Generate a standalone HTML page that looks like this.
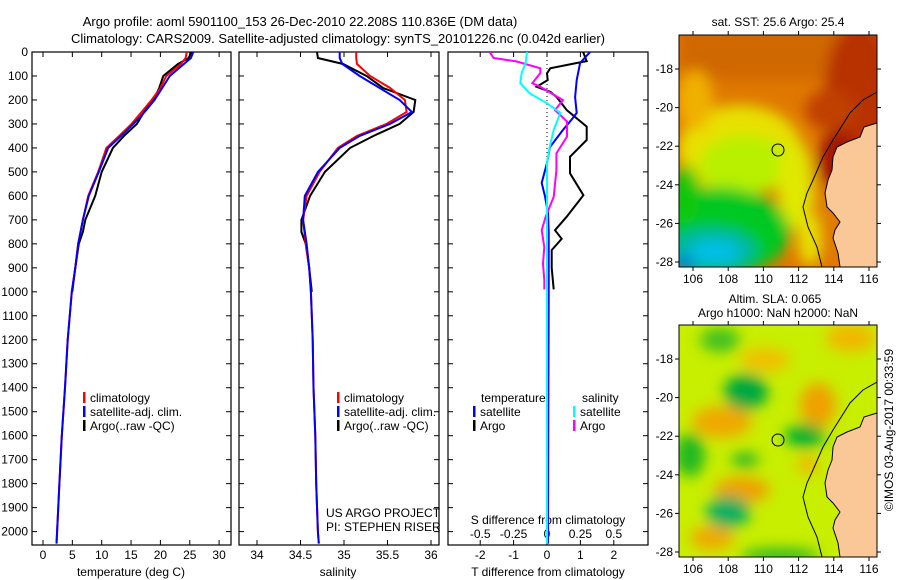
<!DOCTYPE html>
<html><head><meta charset="utf-8"><style>
html,body{margin:0;padding:0;background:#fff;}
svg{display:block;font-family:"Liberation Sans",sans-serif;}
text{font-size:12px;fill:#000;}
</style></head><body>
<svg id="fig" width="900" height="580" viewBox="0 0 900 580" xmlns="http://www.w3.org/2000/svg">
<defs>
<filter id="blur8" x="-50%" y="-50%" width="200%" height="200%"><feGaussianBlur stdDeviation="7"/></filter>
<clipPath id="clipTop"><rect x="679" y="35" width="198" height="232"/></clipPath>
<clipPath id="clipBot"><rect x="679" y="325" width="198" height="232"/></clipPath>
<clipPath id="clipP1"><rect x="32" y="52" width="199" height="493"/></clipPath>
<clipPath id="clipP2"><rect x="239" y="52" width="200" height="493"/></clipPath>
<clipPath id="clipP3"><rect x="448" y="52" width="200" height="493"/></clipPath>
</defs>
<text x="300" y="26" text-anchor="middle" style="font-size:13px">Argo profile: aoml 5901100_153 26-Dec-2010 22.208S 110.836E (DM data)</text>
<text x="338" y="43" text-anchor="middle" style="font-size:13px">Climatology: CARS2009. Satellite-adjusted climatology: synTS_20101226.nc (0.042d earlier)</text>

<!-- top map -->
<g>
<text x="778" y="26" text-anchor="middle">sat. SST: 25.6 Argo: 25.4</text>
<g clip-path="url(#clipTop)">
<rect x="679" y="35" width="198" height="232" fill="#e07800"/>
<g filter="url(#blur8)">
<rect x="679" y="20" width="230" height="60" fill="#d06800"/>
<ellipse cx="860" cy="90" rx="35" ry="70" fill="#b83000"/>
<ellipse cx="830" cy="110" rx="25" ry="20" fill="#c04000"/>
<ellipse cx="740" cy="150" rx="62" ry="45" fill="#e8e000"/>
<ellipse cx="745" cy="165" rx="45" ry="30" fill="#b8f000"/>
<ellipse cx="695" cy="100" rx="18" ry="30" fill="#f0b000"/>
<ellipse cx="795" cy="185" rx="18" ry="45" fill="#e0e800"/>
<ellipse cx="715" cy="232" rx="75" ry="45" fill="#00c820"/>
<ellipse cx="686" cy="195" rx="14" ry="30" fill="#10c810"/>
<ellipse cx="712" cy="250" rx="45" ry="22" fill="#00b8a0"/>
<ellipse cx="715" cy="252" rx="25" ry="12" fill="#00c0e8"/>
<ellipse cx="684" cy="264" rx="10" ry="8" fill="#0070e0"/>
<ellipse cx="810" cy="240" rx="12" ry="26" fill="#e8e000"/>
<ellipse cx="838" cy="160" rx="20" ry="30" fill="#a01800"/>
<ellipse cx="822" cy="205" rx="10" ry="18" fill="#e08000"/>
</g>
<polygon points="877,123 864,127 860,137 847,142 837,147 833,157 832,170 828,180 825,193 827,207 833,213 840,222 835,230 833,238 838,253 840,267 877,267" fill="#fac896"/>
<polyline points="877,123 864,127 860,137 847,142 837,147 833,157 832,170 828,180 825,193 827,207 833,213 840,222 835,230 833,238 838,253 840,267" fill="none" stroke="#000" stroke-width="1"/>
<polyline points="877,92 863,100 850,113 833,140 823,157 813,180 807,193 803,207 808,227 817,247 822,267" fill="none" stroke="#000" stroke-width="1"/>
<circle cx="778" cy="150" r="6" fill="none" stroke="#000" stroke-width="1"/>
</g>
<rect x="679" y="35" width="198" height="232" fill="none" stroke="#000" stroke-width="1"/>
</g>

<!-- bottom map -->
<g>
<text x="775" y="303" text-anchor="middle">Altim. SLA: 0.065</text>
<text x="778" y="317" text-anchor="middle">Argo h1000: NaN h2000: NaN</text>
<g clip-path="url(#clipBot)">
<rect x="679" y="325" width="198" height="232" fill="#c8ee00"/>
<g filter="url(#blur8)">
<ellipse cx="851" cy="338" rx="25" ry="14" fill="#f0b800"/>
<ellipse cx="765" cy="360" rx="25" ry="12" fill="#f0c000"/>
<ellipse cx="818" cy="405" rx="18" ry="22" fill="#f0a000"/>
<ellipse cx="722" cy="422" rx="30" ry="16" fill="#f0a800"/>
<ellipse cx="742" cy="490" rx="28" ry="13" fill="#f0a000"/>
<ellipse cx="712" cy="538" rx="22" ry="12" fill="#f0a800"/>
<ellipse cx="808" cy="465" rx="10" ry="10" fill="#f0b800"/>
<ellipse cx="746" cy="392" rx="22" ry="18" fill="#00a840"/>
<ellipse cx="805" cy="436" rx="20" ry="12" fill="#00b030"/>
<ellipse cx="728" cy="512" rx="22" ry="16" fill="#00b060"/>
<ellipse cx="690" cy="455" rx="15" ry="22" fill="#20b820"/>
<ellipse cx="745" cy="460" rx="14" ry="8" fill="#30b820"/>
<ellipse cx="720" cy="340" rx="20" ry="12" fill="#40c020"/>
<ellipse cx="780" cy="556" rx="40" ry="8" fill="#30b820"/>
</g>
<polygon points="877,123 864,127 860,137 847,142 837,147 833,157 832,170 828,180 825,193 827,207 833,213 840,222 835,230 833,238 838,253 840,267 877,267" transform="translate(0,290)" fill="#fac896"/>
<polyline points="877,123 864,127 860,137 847,142 837,147 833,157 832,170 828,180 825,193 827,207 833,213 840,222 835,230 833,238 838,253 840,267" transform="translate(0,290)" fill="none" stroke="#000" stroke-width="1"/>
<polyline points="877,92 863,100 850,113 833,140 823,157 813,180 807,193 803,207 808,227 817,247 822,267" transform="translate(0,290)" fill="none" stroke="#000" stroke-width="1"/>
<circle cx="778" cy="440" r="6" fill="none" stroke="#000" stroke-width="1"/>
</g>
<rect x="679" y="325" width="198" height="232" fill="none" stroke="#000" stroke-width="1"/>
</g>
<text transform="translate(893,430) rotate(-90)" text-anchor="middle">©IMOS 03-Aug-2017 00:33:59</text>

<g id="axes"></g>
</svg>
<script>
// ---- data ----
const depthLevels = [0,25,50,100,150,200,250,300,350,400,500,600,700,800,900,1000,1200,1400,1600,1800,2000,2050];
const tempClim = [24.5,24.3,23.5,21,20,18.5,16.8,15.1,13,10.8,9.4,7.7,6.8,6,5.5,4.9,4.2,3.75,3.2,2.8,2.4,2.3];
const tempSat  = [25.6,25.2,24,21.6,20.3,19,17.3,15.4,13.3,11.1,9.5,7.8,6.8,6,5.5,4.9,4.2,3.75,3.2,2.8,2.4,2.3];
const salClim  = [35.14,35.14,35.15,35.3,35.53,35.7,35.72,35.49,35.15,34.93,34.72,34.57,34.53,34.56,34.6,34.62,34.64,34.65,34.67,34.68,34.70,34.71];
const salSat   = [34.95,34.95,34.98,35.18,35.41,35.64,35.78,35.53,35.18,34.95,34.7,34.55,34.53,34.57,34.6,34.62,34.64,34.65,34.67,34.68,34.70,34.71];
const argoDepths = [0,25,50,100,150,200,250,300,350,400,500,600,700,750,800,900,1000];
const tempArgo = [25.3,24.8,23,20.5,19.8,18.8,17.2,16,13.8,11.9,10,8.9,7.2,6.8,6.1,5.5,5];
const salArgo  = [34.69,34.7,34.99,35.26,35.45,35.82,35.8,35.64,35.34,35.07,34.78,34.61,34.51,34.51,34.56,34.6,34.63];
const tdSatDepths = [0,46,117,188,254,280,325,396,463,546,602,671,750,1000,1500,2050];
const tdSat = [1.29,0.99,0.89,0.84,0.89,0.75,0.48,0.09,0,-0.16,-0.06,0.03,0.05,0.05,0.04,0.03];
const tdArgoDepths = [0,38,46,68,89,117,145,166,188,242,311,367,437,506,597,687,743,779,826,900,990];
const tdArgo = [1.08,1.19,0.89,0.1,0,0.02,-0.31,0.1,0.29,0.59,1.19,1.19,0.69,0.69,1.09,0.59,0.24,0.44,0.14,0.14,0.2];
const sdArgoDepths = [0,25,39,68,88,130,145,201,242,290,353,423,493,604,687,743,813,882,951,990];
const sdArgo = [-0.43,-0.40,-0.23,-0.05,-0.05,-0.11,-0.05,0.12,0.06,0.15,0.15,0.07,0.07,0.05,-0.01,-0.04,-0.02,-0.03,-0.02,-0.02];
const sdSatDepths = [0,46,88,130,172,214,254,325,396,463,604,1000,2050];
const sdSat = [-0.15,-0.16,-0.19,-0.2,-0.13,0,0.1,0.05,0.02,0,0,0,0];
const depthTicks = [0,100,200,300,400,500,600,700,800,900,1000,1100,1200,1300,1400,1500,1600,1700,1800,1900,2000];
const tempTicks = [0,5,10,15,20,25,30];
const salTicks = [34,34.5,35,35.5,36];
const tdTicks = [-2,-1,0,1,2];
const sdTicks = [-0.5,-0.25,0,0.25,0.5];
const sdTickLabels = ["-0.5","-0.25","0","0.25","0.5"];

const NS="http://www.w3.org/2000/svg";
const root=document.getElementById('axes');
const yD=d=>52+d*0.2398;
const xT=t=>43+t*5.87;
const xS=s=>257+(s-34)*87;
const xTD=v=>547+v*33.4;
const xSD=v=>547+v*133.6;
function el(tag,attrs,parent){const e=document.createElementNS(NS,tag);for(const k in attrs)e.setAttribute(k,attrs[k]);(parent||root).appendChild(e);return e;}
function txt(x,y,s,anchor,parent){const t=el('text',{x:x,y:y,'text-anchor':anchor||'start'},parent);t.textContent=s;return t;}
function line(depths,vals,fx,color,clip,name){
  const pts=depths.map((d,i)=>fx(vals[i]).toFixed(1)+','+yD(d).toFixed(1)).join(' ');
  const p=el('polyline',{points:pts,fill:'none',stroke:color,'stroke-width':2,'clip-path':'url(#'+clip+')'});
  
  
}
function panel(x0,x1,name){
  const g=el('g',{});
  
  
  el('rect',{x:x0,y:52,width:x1-x0,height:493,fill:'none',stroke:'#000','stroke-width':1.2},g);
  depthTicks.forEach(d=>{el('line',{x1:x0,x2:x0+5,y1:yD(d),y2:yD(d),stroke:'#000'},g);el('line',{x1:x1-5,x2:x1,y1:yD(d),y2:yD(d),stroke:'#000'},g);});
  return g;
}
function xticks(g,ticks,fx,labels,ly){
  ticks.forEach((t,i)=>{const x=fx(t);el('line',{x1:x,x2:x,y1:52,y2:57,stroke:'#000'},g);el('line',{x1:x,x2:x,y1:540,y2:545,stroke:'#000'},g);
    if(labels){const tt=txt(x,ly,labels[i],'middle',g);}});
}
// panel 1
const g1=panel(32,231,'temperature-panel');
depthTicks.forEach(d=>{const t=txt(28,yD(d)+4,String(d),'end',g1);});
xticks(g1,tempTicks,xT,tempTicks.map(String),559);
const t1=txt(131,576,'temperature (deg C)','middle',g1);
line(argoDepths,tempArgo,xT,'#000','clipP1','temp-argo-line');
line(depthLevels,tempClim,xT,'#f00','clipP1','temp-climatology-line');
line(depthLevels,tempSat,xT,'#00f','clipP1','temp-satellite-line');
// panel 2
const g2=panel(239,439,'salinity-panel');
xticks(g2,salTicks,xS,['34','34.5','35','35.5','36'],559);
const t2=txt(338,576,'salinity','middle',g2);
line(argoDepths,salArgo,xS,'#000','clipP2','sal-argo-line');
line(depthLevels,salClim,xS,'#f00','clipP2','sal-climatology-line');
line(depthLevels,salSat,xS,'#00f','clipP2','sal-satellite-line');
// panel 3
const g3=panel(448,648,'difference-panel');
xticks(g3,tdTicks,xTD,tdTicks.map(String),559);
sdTicks.forEach((t,i)=>{const tt=txt(xSD(t),538,sdTickLabels[i],'middle',g3);});
const t3=txt(548,576,'T difference from climatology','middle',g3);
const t4=txt(548,524,'S difference from climatology','middle',g3);
el('line',{x1:547,x2:547,y1:52,y2:270,stroke:'#000','stroke-dasharray':'1,3'},g3);
line(tdArgoDepths,tdArgo,xTD,'#000','clipP3','tdiff-argo-line');
line(tdSatDepths,tdSat,xTD,'#00f','clipP3','tdiff-satellite-line');
line(sdArgoDepths,sdArgo,xSD,'#f0f','clipP3','sdiff-argo-line');
line(sdSatDepths,sdSat,xSD,'#0ff','clipP3','sdiff-satellite-line');
// legends
function legend(mx,y,color,label,name){
  const g=el('g',{});
  
  
  el('rect',{x:mx,y:y-10,width:2.5,height:11,fill:color},g);
  txt(mx+7,y,label,'start',g);
}
legend(83,402,'#f00','climatology','legend-climatology');
legend(83,416,'#00f','satellite-adj. clim.','legend-satellite');
legend(83,430,'#000','Argo(..raw -QC)','legend-argo');
legend(337,402,'#f00','climatology','legend-sal-climatology');
legend(337,416,'#00f','satellite-adj. clim.','legend-sal-satellite');
legend(337,430,'#000','Argo(..raw -QC)','legend-sal-argo');
const lt=txt(481,402,'temperature','start');
const ls=txt(582,402,'salinity','start');
legend(473,416,'#00f','satellite','legend-tdiff-satellite');
legend(473,430,'#000','Argo','legend-tdiff-argo');
legend(573,416,'#0ff','satellite','legend-sdiff-satellite');
legend(573,430,'#f0f','Argo','legend-sdiff-argo');
const u1=txt(326,517,'US ARGO PROJECT','start');
const u2=txt(326,531,'PI: STEPHEN RISER','start');
// map ticks
const lonTicks=[106,108,110,112,114,116];
const latTicks=[18,20,22,24,26,28];
[0,290].forEach((off,mi)=>{
  lonTicks.forEach(l=>{const x=693+(l-106)*17.6;el('line',{x1:x,x2:x,y1:35+off,y2:31+off,stroke:'#000'});el('line',{x1:x,x2:x,y1:267+off,y2:271+off,stroke:'#000'});
    const t=txt(x,283+off,String(l),'middle');});
  latTicks.forEach(l=>{const y=69+(l-18)*19.3+off;el('line',{x1:675,x2:679,y1:y,y2:y,stroke:'#000'});el('line',{x1:877,x2:881,y1:y,y2:y,stroke:'#000'});
    const t=txt(673,y+4,'-'+l,'end');});
});
</script>
</body></html>
